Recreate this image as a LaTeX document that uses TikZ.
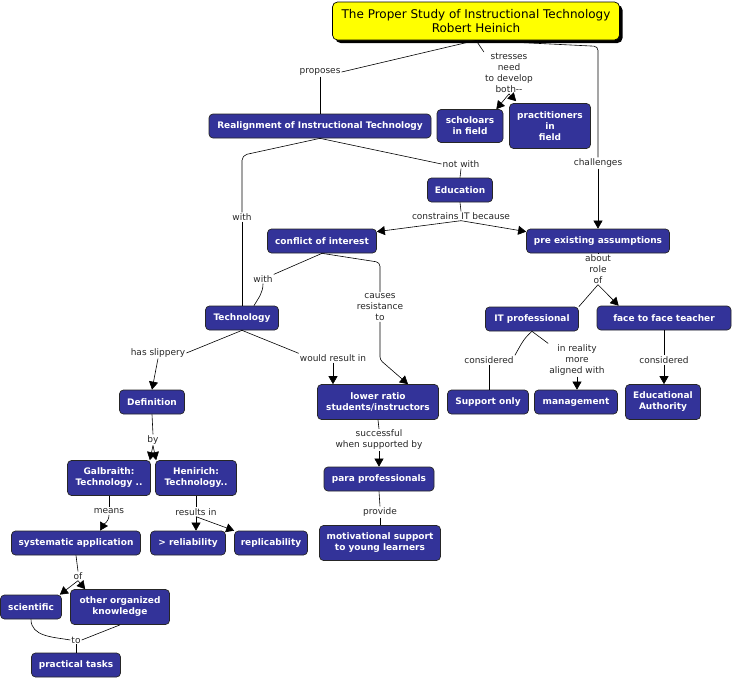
\documentclass[tikz,border=0pt]{standalone}
\usepackage{fontspec}
\setmainfont{DejaVu Sans}
\usetikzlibrary{arrows.meta,shadows}
\definecolor{cmapblue}{RGB}{51,51,153}
\definecolor{cmapyellow}{RGB}{255,255,0}

\begin{document}
\begin{tikzpicture}[
  x=1pt, y=-1pt,
  >={Triangle[length=8pt,width=9pt]},
  concept/.style={
    rectangle, draw=black!85, line width=0.7pt,
    fill=cmapblue, text=white, rounded corners=4pt,
    font=\fontsize{9}{11}\selectfont\bfseries,
    align=center, inner xsep=3pt, inner ysep=2pt, minimum height=24pt
  },
  twoline/.style={concept, minimum height=35pt},
  titlebox/.style={
    rectangle, draw=black, line width=0.7pt,
    fill=cmapyellow, rounded corners=5pt,
    font=\fontsize{12}{14}\selectfont, align=center,
    minimum width=287pt, minimum height=38pt,
    drop shadow={shadow xshift=3pt, shadow yshift=-3pt, fill=black, opacity=1}
  },
  linkword/.style={font=\fontsize{9}{11}\selectfont, align=center, inner sep=1pt, text=black!85},
  conn/.style={draw=black, line width=0.6pt},
  arr/.style={conn, ->}
]
\useasboundingbox (0,0) rectangle (733,680);

% concepts
\node[titlebox] (title) at (476,21) {The Proper Study of Instructional Technology\\Robert Heinich};
\node[concept, minimum width=222pt] (realign) at (320,126) {Realignment of Instructional Technology};
\node[twoline, minimum width=66pt, minimum height=33pt] (schol) at (470,126) {scholoars\\in field};
\node[concept, minimum width=81pt, minimum height=45pt] (pract) at (550,126) {practitioners\\in\\field};
\node[concept, minimum width=65pt] (edu) at (460,190) {Education};
\node[concept, minimum width=109pt] (conflict) at (322,241) {conflict of interest};
\node[concept, minimum width=143pt] (preexist) at (598,241) {pre existing assumptions};
\node[concept, minimum width=73pt] (tech) at (242,318) {Technology};
\node[concept, minimum width=93pt] (itprof) at (532,319) {IT professional};
\node[concept, minimum width=134pt] (face) at (664,318) {face to face teacher};
\node[concept, minimum width=65pt] (definition) at (152,402) {Definition};
\node[twoline, minimum width=121pt] (lower) at (378,402) {lower ratio\\students/instructors};
\node[concept, minimum width=81pt] (support) at (488,402) {Support only};
\node[concept, minimum width=83pt] (management) at (576,402) {management};
\node[twoline, minimum width=75pt] (eduauth) at (663,402) {Educational\\Authority};
\node[twoline, minimum width=83pt] (galbraith) at (109,478) {Galbraith:\\Technology ..};
\node[twoline, minimum width=81pt] (henirich) at (196,478) {Henirich:\\Technology..};
\node[concept, minimum width=110pt] (para) at (379,479) {para professionals};
\node[concept, minimum width=129pt] (systematic) at (76,543) {systematic application};
\node[concept, minimum width=75pt] (reliability) at (188,543) {> reliability};
\node[concept, minimum width=73pt] (replic) at (271,543) {replicability};
\node[twoline, minimum width=121pt] (motiv) at (380,543) {motivational support\\to young learners};
\node[concept, minimum width=61pt] (scientific) at (31,607) {scientific};
\node[twoline, minimum width=99pt] (other) at (120,607) {other organized\\knowledge};
\node[concept, minimum width=89pt] (practical) at (76,665) {practical tasks};

% linking phrases
\node[linkword] (proposes) at (320,72) {proposes};
\node[linkword] (stresses) at (509,73) {stresses\\need\\to develop\\both-{}-};
\node[linkword] (challenges) at (598,163) {challenges};
\node[linkword] (withA) at (242,217) {with};
\node[linkword] (notwith) at (461,164) {not with};
\node[linkword] (constrains) at (461,216) {constrains IT because};
\node[linkword] (withB) at (263,279) {with};
\node[linkword] (causes) at (380,307) {causes\\resistance\\to};
\node[linkword] (aboutrole) at (598,269) {about\\role\\of};
\node[linkword] (slippery) at (158,353) {has slippery};
\node[linkword] (wouldresult) at (333,358) {would result in};
\node[linkword] (consA) at (489,360) {considered};
\node[linkword] (inreality) at (577,360) {in reality\\more\\aligned with};
\node[linkword] (consB) at (664,360) {considered};
\node[linkword] (by) at (153,440) {by};
\node[linkword] (successful) at (379,440) {successful\\when supported by};
\node[linkword] (means) at (109,511) {means};
\node[linkword] (resultsin) at (196,512) {results in};
\node[linkword] (provide) at (380,512) {provide};
\node[linkword] (of) at (78,576) {of};
\node[linkword] (to) at (76,640) {to};

% connectors
\draw[conn] (title.south) -- (proposes.east);
\draw[conn] (proposes.south) -- (realign.north);
\draw[conn] (title.south) -- (stresses.north west);
\draw[arr] (stresses.south) -- ([xshift=-7pt]schol.north east);
\draw[arr] (stresses.south) -- ([xshift=7pt,yshift=2pt]pract.north west);
\draw[conn, rounded corners=4pt] (title.south) -- ([yshift=-6pt]title.south -| challenges.north) -- (challenges.north);
\draw[arr] (challenges.south) -- (preexist.north);

\draw[conn, rounded corners=5pt] (realign.south) -- ([yshift=-17pt]realign.south -| withA.north) -- (withA.north);
\draw[conn] (withA.south) -- (tech.north);
\draw[conn] (realign.south) -- (notwith.west);
\draw[conn] (notwith.south) -- (edu.north);
\draw[conn] (edu.south) -- (constrains.north);
\draw[arr] (constrains.south) -- ([yshift=-3pt]conflict.north east);
\draw[arr] (constrains.south) -- ([yshift=-3pt]preexist.north west);

\draw[conn] (conflict.south) -- (withB.north east);
\draw[conn] (withB.south) to[out=-90, in=60] ([xshift=12pt]tech.north);
\draw[conn, rounded corners=4pt] (conflict.south) -- ([yshift=-9pt]conflict.south -| causes.north) -- (causes.north);
\draw[arr, rounded corners=3pt] (causes.south) -- ([yshift=-38pt]causes.south) -- ([xshift=30pt]lower.north);

\draw[conn] (tech.south) -- (slippery.east);
\draw[arr] (slippery.south) -- (definition.north);
\draw[conn] (tech.south) -- (wouldresult.north west);
\draw[arr] (wouldresult.south) -- (wouldresult.south |- lower.north);

\draw[conn] (preexist.south) -- (aboutrole.north);
\draw[conn] (aboutrole.south) -- (itprof.north east);
\draw[arr] (aboutrole.south) -- ([xshift=22pt]face.north west);
\draw[conn] (itprof.south) to[out=-140, in=60] (consA.north east);
\draw[conn] (consA.south) -- (consA.south |- support.north);
\draw[conn] (itprof.south) -- (inreality.north west);
\draw[arr] (inreality.south) -- (inreality.south |- management.north);
\draw[conn] (face.south) -- (consB.north);
\draw[arr] (consB.south) -- (consB.south |- eduauth.north);

\draw[conn] (definition.south) -- (by.north);
\draw[arr] (by.south) -- ([xshift=-1pt]galbraith.north east);
\draw[arr] (by.south) -- ([xshift=1pt]henirich.north west);
\draw[conn] (galbraith.south) -- (means.north);
\draw[arr] (means.south) to[out=-90, in=60] ([xshift=24pt]systematic.north);
\draw[conn] (henirich.south) -- (resultsin.north);
\draw[arr] (resultsin.south) -- ([xshift=8pt]reliability.north);
\draw[arr] (resultsin.south) -- (replic.north west);

\draw[conn] (lower.south) -- (successful.north);
\draw[arr] (successful.south) -- (para.north);
\draw[conn] (para.south) -- (provide.north);
\draw[conn] (provide.south) -- (motiv.north);

\draw[conn] (systematic.south) -- (of.north);
\draw[arr] (of.south) -- ([xshift=-2pt]scientific.north east);
\draw[arr] (of.south) -- ([xshift=15pt]other.north west);
\draw[conn] (scientific.south) to[out=-90, in=170] (to.west);
\draw[conn] (other.south) -- (to.east);
\draw[conn] (to.south) -- (practical.north);

\end{tikzpicture}
\end{document}
